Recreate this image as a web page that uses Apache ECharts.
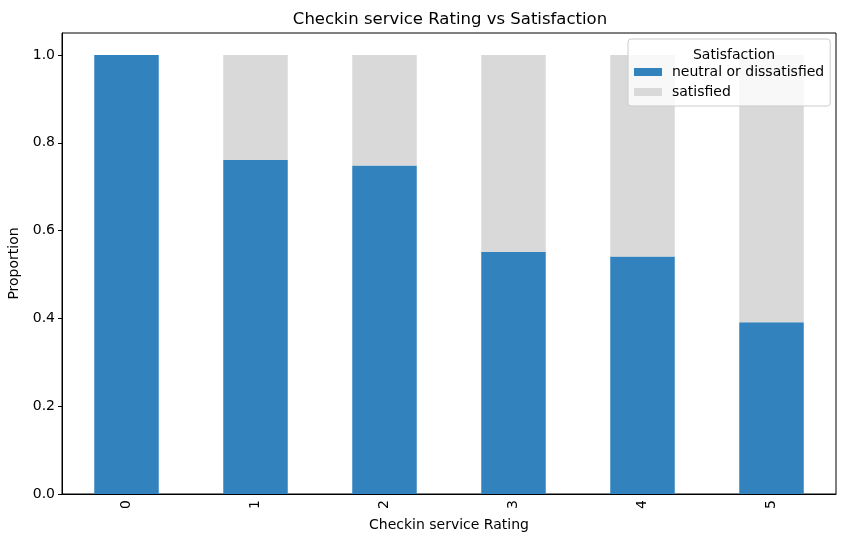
<!DOCTYPE html>
<html>
<head>
<meta charset="utf-8">
<script src="https://cdn.jsdelivr.net/npm/echarts@6/dist/echarts.min.js"></script>
<style>
html, body { margin: 0; padding: 0; background: #fff; }
#main { width: 846px; height: 542px; }
</style>
</head>
<body>
<div id="main"></div>
<script>
// ratings along x
var ratings = ['0', '1', '2', '3', '4', '5'];
// share of each group per rating
var neutralVals = [1.0, 0.761, 0.748, 0.552, 0.541, 0.391];
var satisfiedVals = [0.0, 0.239, 0.252, 0.448, 0.459, 0.609];
var yTicks = [0, 0.2, 0.4, 0.6, 0.8, 1.0];

var myChart = echarts.init(document.getElementById('main'));
var font = 'DejaVu Sans';

var option = {
	animation: false,
	textStyle: { fontFamily: font },
	title: [{
		text: 'Checkin service Rating vs Satisfaction',
		left: 445, top: 6, textAlign: 'center',
		textStyle: { fontFamily: font, fontSize: 16.5, fontWeight: 'normal', color: '#000' }
	}, {
		// legend title
		text: 'Satisfaction',
		left: 729, top: 43, textAlign: 'center', z: 10,
		textStyle: { fontFamily: font, fontSize: 14, fontWeight: 'normal', color: '#000' }
	}],
	legend: {
		orient: 'vertical',
		left: 628, top: 39,
		padding: [26, 6, 7, 6],
		icon: 'rect',
		itemWidth: 28, itemHeight: 8, itemGap: 6,
		backgroundColor: 'rgba(255,255,255,0.8)',
		borderColor: '#ccc', borderWidth: 1, borderRadius: 3,
		textStyle: { fontFamily: font, fontSize: 14, color: '#000', lineHeight: 14, padding: [0, 0, 0, 5] },
		data: ['neutral or dissatisfied', 'satisfied'],
		z: 9
	},
	grid: {
		left: 62, right: 10, top: 33, bottom: 48,
		outerBoundsMode: 'none',
		containLabel: false,
		show: true, borderColor: '#000', borderWidth: 1
	},
	xAxis: {
		type: 'category',
		data: ratings,
		name: 'Checkin service Rating',
		nameLocation: 'middle', nameGap: 24,
		nameTextStyle: { fontFamily: font, fontSize: 14, color: '#000' },
		axisLine: { lineStyle: { color: '#000' } },
		axisTick: { alignWithLabel: true, length: 4, lineStyle: { color: '#000' } },
		axisLabel: { rotate: 90, fontFamily: font, fontSize: 14, color: '#000', margin: 6 },
		splitLine: { show: false }
	},
	yAxis: {
		type: 'value',
		min: 0, max: 1.05,
		name: 'Proportion',
		nameLocation: 'middle', nameGap: 36,
		nameTextStyle: { fontFamily: font, fontSize: 14, color: '#000' },
		axisLine: { show: true, lineStyle: { color: '#000' } },
		axisTick: { show: true, length: 4, customValues: yTicks, lineStyle: { color: '#000' } },
		axisLabel: {
			fontFamily: font, fontSize: 14, color: '#000', margin: 7,
			customValues: yTicks,
			formatter: function (v) { return v.toFixed(1); }
		},
		splitLine: { show: false }
	},
	series: [{
		name: 'neutral or dissatisfied',
		type: 'bar', stack: 'total',
		barWidth: '50%',
		itemStyle: { color: '#3182bd' },
		data: neutralVals
	}, {
		name: 'satisfied',
		type: 'bar', stack: 'total',
		barWidth: '50%',
		itemStyle: { color: '#d9d9d9' },
		data: satisfiedVals
	}],
	color: ['#3182bd', '#d9d9d9']
};
myChart.setOption(option);
</script>
</body>
</html>
